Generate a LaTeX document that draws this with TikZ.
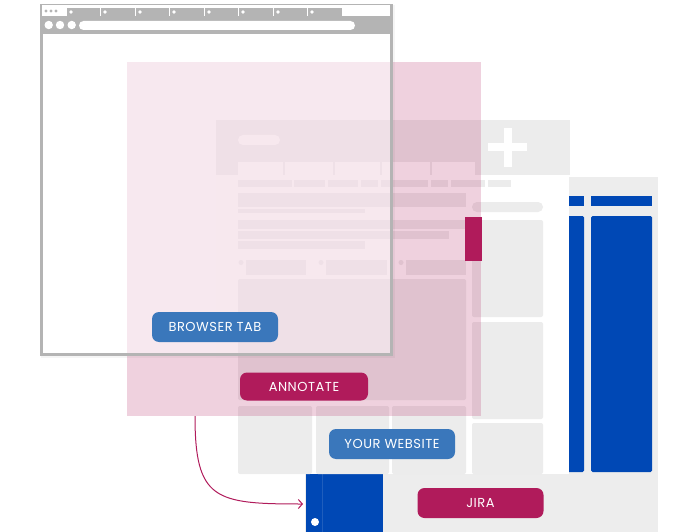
\documentclass[tikz,border=0pt]{standalone}
\usepackage{fontspec}
\setmainfont{Poppins}
\newfontfamily\btnfont[LetterSpace=4]{Poppins}
\usetikzlibrary{arrows.meta}
\definecolor{framegray}{HTML}{B4B4B4}
\definecolor{webgray}{HTML}{ECECEC}
\definecolor{jiragray}{HTML}{EDEDED}
\definecolor{jirablue}{HTML}{0048B5}
\definecolor{tabblue}{HTML}{3A77BB}
\definecolor{annot}{HTML}{B01B5B}
\begin{document}
\begin{tikzpicture}
  [x=1pt,y=-1pt,every node/.style={text=white,font=\btnfont\fontsize{13}{15}\selectfont,inner sep=0pt}]
 \tikzset{Button/.style={rounded corners=7pt,minimum width=126pt,minimum height=30pt},
   BlueButton/.style={Button,fill=tabblue},
   PinkButton/.style={Button,fill=annot},
   WebBox/.style={fill=webgray},
   BlueBox/.style={fill=jirablue}}
  \useasboundingbox (0,0) rectangle (691,532);

  % jira board
  \fill[jiragray] (305,177) rectangle (658,532);
  \fill[BlueBox] (556,196) rectangle (584,206);
  \fill[BlueBox,rounded corners=1.5pt] (556,216) rectangle (584,472);
  \fill[BlueBox] (591,196) rectangle (652,206);
  \fill[BlueBox,rounded corners=1.5pt] (591,216) rectangle (652,472);
  \fill[BlueBox] (306,474) rectangle (383,532);
  \draw[white,opacity=.12] (322,474) -- (322,532);
  \fill[white] (315,522) circle (4);
  \node[PinkButton] (jira) at (480.5,503) {JIRA};

  % website
  \fill[white] (216,120) rectangle (569,474);
  \fill[WebBox] (216,120) rectangle (570,175);
  \fill[white,rounded corners=5pt] (238,135) rectangle (280,145);
  \fill[white] (488,143) rectangle (527,151);
  \fill[white] (504,128) rectangle (512,167);
  \foreach \from/\to in {238/283,285/333,335/380,382/430,432/475}
    \fill[white] (\from,162) rectangle (\to,175);
  \foreach \from/\to in {238/292,294/325,328/358,361/378,381/428,431/448,451/485,488/511}
    \fill[WebBox] (\from,180) rectangle (\to,187);
  \fill[WebBox] (238,193) rectangle (466,207);
  \fill[WebBox] (238,208.5) rectangle (365,213);
  \fill[WebBox] (238,220) rectangle (466,228.5);
  \fill[WebBox] (238,230.5) rectangle (449,238.5);
  \fill[WebBox] (238,240.5) rectangle (365,248.5);
  \foreach \dot/\from/\to in {241/246/306,321/326/387,401/406/466}{
    \fill[WebBox] (\dot,262.5) circle (2.5);
    \fill[WebBox] (\from,260) rectangle (\to,275);}
  \fill[WebBox,rounded corners=2pt] (238,279) rectangle (466,400);
  \foreach \from/\to in {238/312,316/389,392/466}
    \fill[WebBox,rounded corners=2pt] (\from,406) rectangle (\to,474);
  \fill[WebBox,rounded corners=5pt] (472,202) rectangle (543,212);
  \foreach \from/\to in {220/317,322/419,423/474}
    \fill[WebBox,rounded corners=2pt] (472,\from) rectangle (543,\to);
  \node[BlueButton] (website) at (392,444) {YOUR WEBSITE};

  % annotation layer
  \fill[annot,opacity=.2] (127,62) rectangle (481,416);
  \node[PinkButton,minimum width=128pt,minimum height=28pt] (annotate) at (304,386.5) {ANNOTATE};

  % browser window
  \draw[black,opacity=.04,line width=2pt] (42,6) rectangle (394,357);
  \fill[white,opacity=.5] (43,34) rectangle (390,353);
  \draw[framegray,line width=3pt] (41.5,5.5) rectangle (391.5,354.5);
  \fill[framegray] (40,4) rectangle (393,34);
  \fill[white] (42,5.5) rectangle (390,16);
  \fill[framegray] (66,8) rectangle (342,16);
  \foreach \x in {66,100,135,169,204,238,273,307}{
    \draw[white,line width=.8pt] (\x,8) -- (\x,16);
    \fill[white] (\x+5,12) circle (1.8);}
  \foreach \x in {46,51,56}
    \fill[framegray] (\x,11) circle (1.6);
  \foreach \x in {48.7,60,71.7}
    \fill[white] (\x,25) circle (4.2);
  \fill[white,rounded corners=4.5pt] (79,21) rectangle (355,30);
  \node[BlueButton] (tab) at (215,327) {BROWSER TAB};

  \fill[annot] (465,217) rectangle (482,261);

  \coordinate (drop) at (195,416);
  \coordinate (sidebar) at (303,504);
  \draw[annot,line width=1pt,-{Straight Barb[length=4pt,width=9pt]}] (drop) .. controls (195,500) and (215,504) .. (sidebar);

\end{tikzpicture}
\end{document}
